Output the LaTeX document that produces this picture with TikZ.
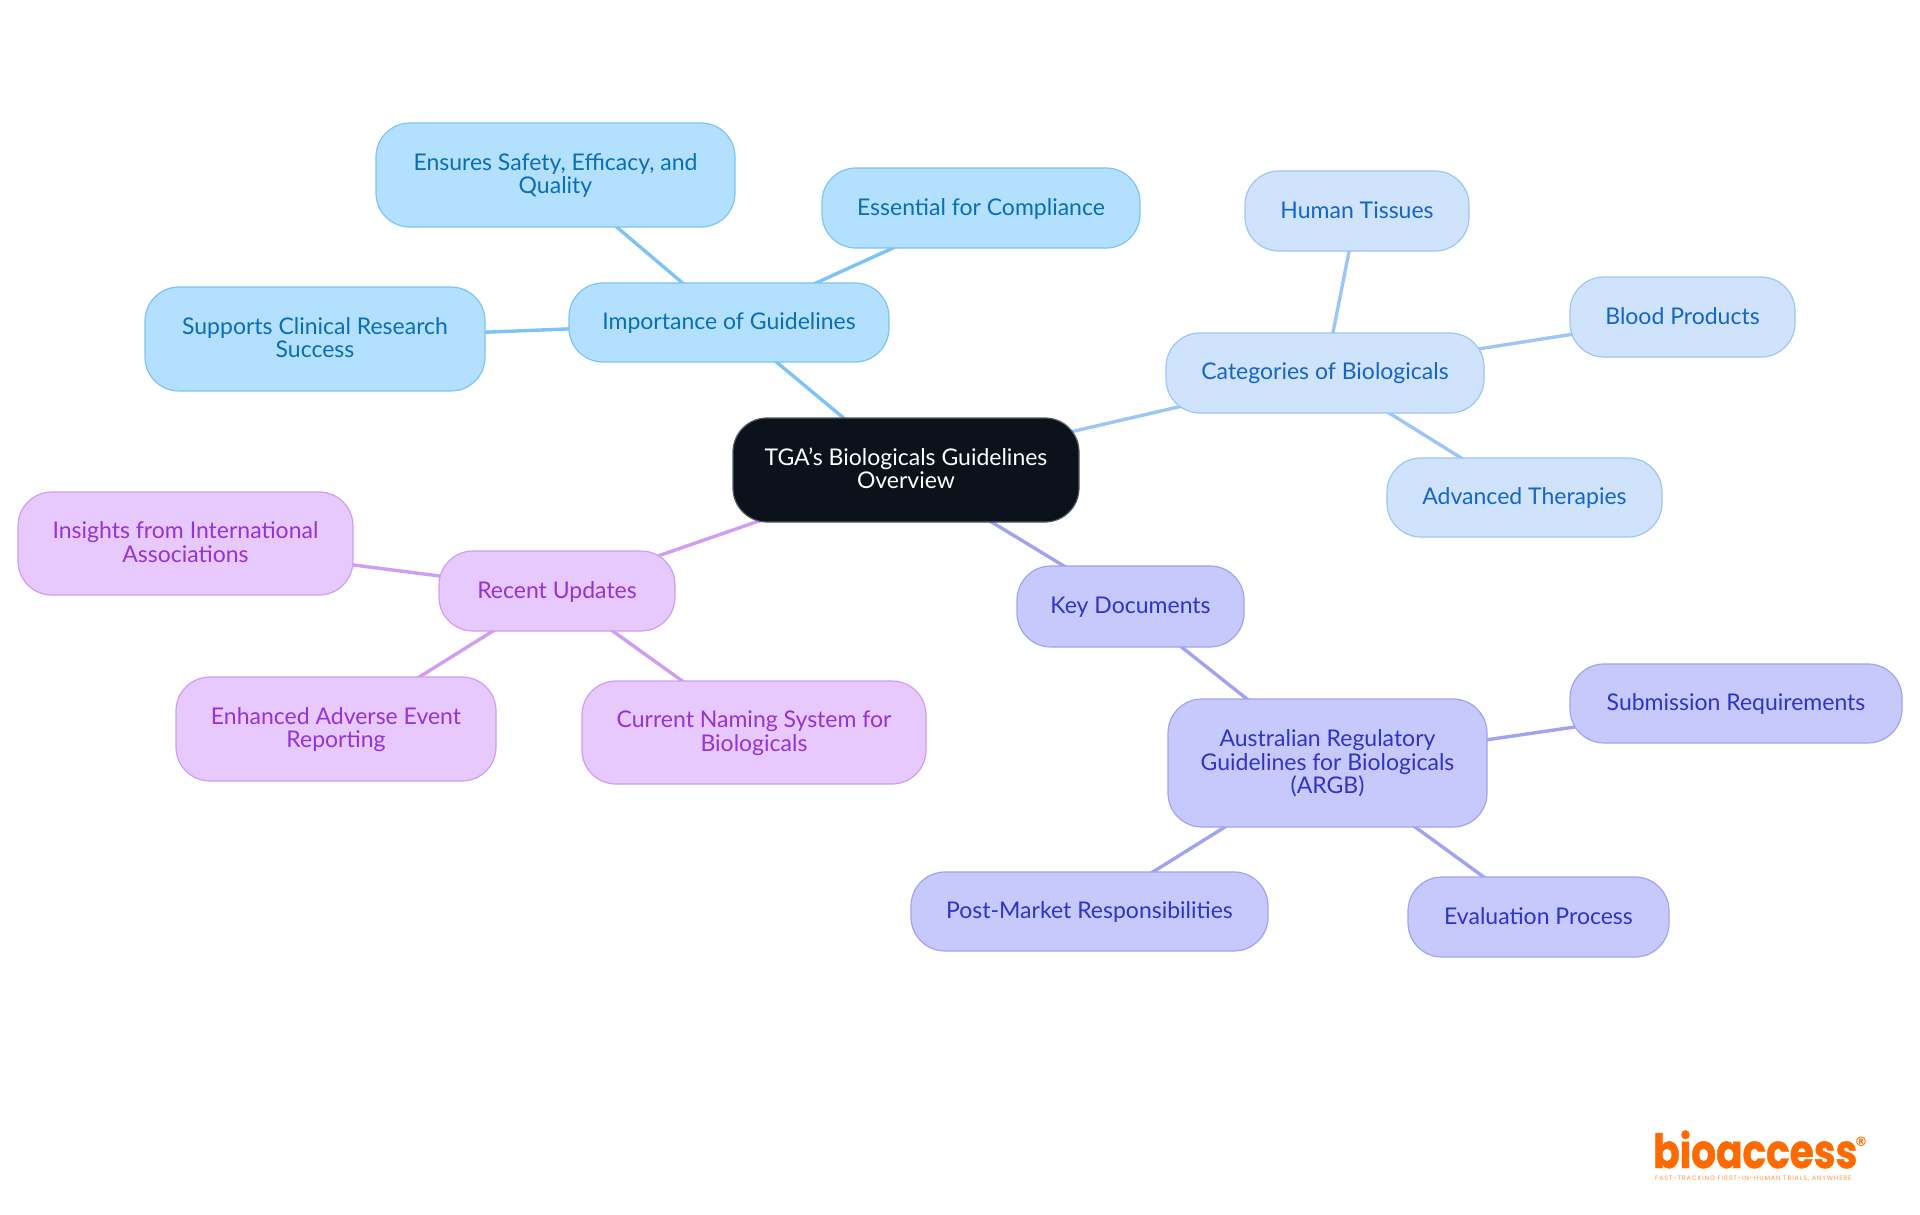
\documentclass[tikz,border=0pt]{standalone}
\usepackage{fontspec}
\setmainfont{Lato}
\newfontfamily\logofont[FakeStretch=0.83,FakeBold=1]{Poppins}
\newfontfamily\regfont{DejaVu Sans}
\newfontfamily\tagfont[LetterSpace=12]{Poppins}
\usetikzlibrary{backgrounds}
\definecolor{rootfill}{HTML}{0B121B}
\definecolor{rootline}{HTML}{55595F}
\definecolor{afill}{HTML}{B3E0FF}\definecolor{aline}{HTML}{7CC4F5}\definecolor{atext}{HTML}{0A6EB4}
\definecolor{bfill}{HTML}{CFE3FC}\definecolor{bline}{HTML}{9CC6F5}\definecolor{btext}{HTML}{1565C8}
\definecolor{cfill}{HTML}{C7C9FD}\definecolor{cline}{HTML}{A0A3F2}\definecolor{ctext}{HTML}{2F33C6}
\definecolor{dfill}{HTML}{E8C9FD}\definecolor{dline}{HTML}{CF9DF2}\definecolor{dtext}{HTML}{9333D8}
\definecolor{logoorange}{HTML}{FF6A00}
\tikzset{
  x=1pt,y=-1pt,
  mapnode/.style={rounded corners=34pt,line width=1.2pt,align=center,inner sep=0pt,
    font=\fontsize{23}{23.7}\selectfont},
  rootnode/.style={mapnode,fill=rootfill,draw=rootline,text=white},
  anode/.style={mapnode,fill=afill,draw=aline,text=atext},
  bnode/.style={mapnode,fill=bfill,draw=bline,text=btext},
  cnode/.style={mapnode,fill=cfill,draw=cline,text=ctext},
  dnode/.style={mapnode,fill=dfill,draw=dline,text=dtext},
  aedge/.style={draw=aline,line width=3.4pt},
  bedge/.style={draw=bline,line width=3.4pt},
  cedge/.style={draw=cline,line width=3.4pt},
  dedge/.style={draw=dline,line width=3.4pt},
}
\newcommand{\boxnode}[7]{% style,name,x0,y0,x1,y1,text
  \pgfmathsetmacro{\bw}{#5-#3}\pgfmathsetmacro{\bh}{#6-#4}
  \pgfmathsetmacro{\bx}{(#3+#5)/2}\pgfmathsetmacro{\by}{(#4+#6)/2}
  \node[#1,minimum width=\bw pt,minimum height=\bh pt] (#2) at (\bx,\by) {\rule{0pt}{18pt}#7\rule[-4pt]{0pt}{4pt}};}
\begin{document}
\begin{tikzpicture}
\useasboundingbox (0,0) rectangle (1920,1215);
\boxnode{rootnode}{root}{733}{418}{1079}{522}{TGA's Biologicals Guidelines\\Overview}
\boxnode{anode}{imp}{569}{283}{889}{362}{Importance of Guidelines}
\boxnode{anode}{ens}{376}{123}{735}{227}{Ensures Safety, Efficacy, and\\Quality}
\boxnode{anode}{ess}{822}{168}{1140}{248}{Essential for Compliance}
\boxnode{anode}{sup}{145}{287}{485}{391}{Supports Clinical Research\\Success}
\boxnode{bnode}{cat}{1166}{333}{1484}{413}{Categories of Biologicals}
\boxnode{bnode}{hum}{1245}{171}{1469}{251}{Human Tissues}
\boxnode{bnode}{blo}{1570}{277}{1795}{357}{Blood Products}
\boxnode{bnode}{adv}{1387}{458}{1662}{537}{Advanced Therapies}
\boxnode{cnode}{key}{1017}{566}{1244}{647}{Key Documents}
\boxnode{cnode}{arg}{1168}{699}{1487}{827}{Australian Regulatory\\Guidelines for Biologicals\\(ARGB)}
\boxnode{cnode}{sub}{1570}{664}{1902}{743}{Submission Requirements}
\boxnode{cnode}{pos}{911}{872}{1268}{951}{Post-Market Responsibilities}
\boxnode{cnode}{eva}{1408}{877}{1669}{957}{Evaluation Process}
\boxnode{dnode}{rec}{439}{551}{675}{631}{Recent Updates}
\boxnode{dnode}{ins}{18}{492}{353}{595}{Insights from International\\Associations}
\boxnode{dnode}{enh}{176}{677}{496}{781}{Enhanced Adverse Event\\Reporting}
\boxnode{dnode}{cur}{582}{681}{926}{784}{Current Naming System for\\Biologicals}
\begin{scope}[on background layer]
\draw[aedge] (root.center) -- (imp.center);
\draw[aedge] (imp.center) -- (ens.center);
\draw[aedge] (imp.center) -- (ess.center);
\draw[aedge] (imp.center) -- (sup.center);
\draw[bedge] (root.center) -- (cat.center);
\draw[bedge] (cat.center) -- (hum.center);
\draw[bedge] (cat.center) -- (blo.center);
\draw[bedge] (cat.center) -- (adv.center);
\draw[cedge] (root.center) -- (key.center);
\draw[cedge] (key.center) -- (arg.center);
\draw[cedge] (arg.center) -- (sub.center);
\draw[cedge] (arg.center) -- (pos.center);
\draw[cedge] (arg.center) -- (eva.center);
\draw[dedge] (root.center) -- (rec.center);
\draw[dedge] (rec.center) -- (ins.center);
\draw[dedge] (rec.center) -- (enh.center);
\draw[dedge] (rec.center) -- (cur.center);
\end{scope}
\node[text=logoorange,inner sep=0pt,anchor=base west,font=\logofont\bfseries\fontsize{47}{47}\selectfont] (logo) at (1653,1168) {bioaccess};
\node[text=logoorange,inner sep=0pt,font=\regfont\bfseries\fontsize{13}{13}\selectfont] (reg) at (1861,1142) {®};
\node[text=logoorange!70,inner sep=0pt,anchor=base west,font=\tagfont\fontsize{6.5}{7}\selectfont] (tag) at (1655,1180) {FAST-TRACKING FIRST-IN-HUMAN TRIALS, ANYWHERE};
\end{tikzpicture}
\end{document}
